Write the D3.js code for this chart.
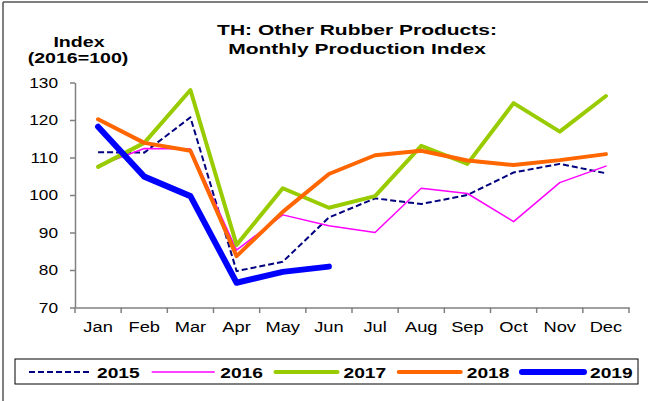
<!DOCTYPE html>
<html>
<head>
<meta charset="utf-8">
<script src="https://cdn.jsdelivr.net/npm/d3@7"></script>
<style>
  body { margin: 0; background: #fff; }
  svg { display: block; font-family: "Liberation Sans", Arial, sans-serif; }
</style>
</head>
<body>
<script>
var months = ["Jan", "Feb", "Mar", "Apr", "May", "Jun", "Jul", "Aug", "Sep", "Oct", "Nov", "Dec"];
var yTicks = [70, 80, 90, 100, 110, 120, 130];

var v2015 = [111.4, 111.3, 120.7, 79.7, 82.2, 94.0, 99.1, 97.6, 100.0, 106.0, 108.3, 105.8];
var v2016 = [107.8, 112.4, 112.3, 85.3, 94.7, 91.8, 90.0, 101.8, 100.4, 92.9, 103.3, 107.7];
var v2017 = [107.5, 113.9, 128.0, 86.7, 101.8, 96.6, 99.7, 113.1, 108.3, 124.5, 116.9, 126.4];
var v2018 = [120.2, 113.9, 111.8, 83.7, 95.5, 105.6, 110.6, 111.8, 109.2, 108.0, 109.3, 110.9];
var v2019 = [118.2, 104.9, 99.7, 76.6, 79.5, 80.9];

var series = [
  { name: "2015", values: v2015, color: "#000080", width: 2, dash: "6,3" },
  { name: "2016", values: v2016, color: "#ff00ff", width: 1.5, dash: null },
  { name: "2017", values: v2017, color: "#99cc00", width: 4, dash: null },
  { name: "2018", values: v2018, color: "#ff6600", width: 4, dash: null },
  { name: "2019", values: v2019, color: "#0000ff", width: 6, dash: null }
];

var width = 648, height = 401;

var svg = d3.select("body").append("svg")
  .attr("width", width)
  .attr("height", height);

// the original picture is stretched sideways, so the text is too
function stretchText(sel, x, y, s) {
  return sel.attr("transform", "translate(" + x + "," + y + ") scale(" + s + ",1)");
}

// outer frame (only top and left visible)
svg.append("line").attr("x1", 3).attr("x2", width).attr("y1", 2).attr("y2", 2)
  .attr("stroke", "#555").attr("stroke-width", 1.5);
svg.append("line").attr("x1", 3).attr("x2", 3).attr("y1", 2).attr("y2", height)
  .attr("stroke", "#555").attr("stroke-width", 1.5);

var x = d3.scaleBand().domain(months).range([75, 629]);
var y = d3.scaleLinear().domain([70, 130]).range([307.5, 82.5]);

// titles
stretchText(svg.append("text"), 357, 35, 1.4).attr("text-anchor", "middle")
  .style("font-size", "15px").style("font-weight", "bold")
  .text("TH: Other Rubber Products:");
stretchText(svg.append("text"), 357, 53.5, 1.4).attr("text-anchor", "middle")
  .style("font-size", "15px").style("font-weight", "bold")
  .text("Monthly Production Index");
stretchText(svg.append("text"), 79, 46.5, 1.4).attr("text-anchor", "middle")
  .style("font-size", "14px").style("font-weight", "bold")
  .text("Index");
stretchText(svg.append("text"), 78, 63, 1.4).attr("text-anchor", "middle")
  .style("font-size", "14px").style("font-weight", "bold")
  .text("(2016=100)");

// axes
var ySx = 1.15, xSx = 1.22;
var yAxis = svg.append("g")
  .attr("transform", "translate(75,0)")
  .call(d3.axisLeft(y).tickValues(yTicks).tickSize(5).tickSizeOuter(0));
yAxis.selectAll(".tick text")
  .attr("x", -17 / ySx)
  .attr("transform", "scale(" + ySx + ",1)");

var xAxis = svg.append("g")
  .attr("transform", "translate(0,307.5)")
  .call(d3.axisBottom(x).tickSize(0).tickSizeOuter(0).tickPadding(14));
xAxis.selectAll(".tick text")
  .attr("transform", "scale(" + xSx + ",1)");

// month boundary ticks
var bounds = months.map(function (m) { return x(m); }).concat([x.range()[1]]);
svg.append("g").selectAll("line").data(bounds).enter().append("line")
  .attr("x1", function (d) { return d; }).attr("x2", function (d) { return d; })
  .attr("y1", 307.5).attr("y2", 313)
  .attr("stroke", "#808080").attr("stroke-width", 1.5);

[yAxis, xAxis].forEach(function (a) {
  a.select(".domain").attr("stroke", "#808080").attr("stroke-width", 1.5);
  a.selectAll(".tick line").attr("stroke", "#808080").attr("stroke-width", 1.5);
  a.selectAll("text").style("font-size", "15px").style("font-family", "Liberation Sans, Arial, sans-serif").attr("fill", "#000");
});

// lines
var line = d3.line()
  .x(function (d, i) { return x(months[i]) + x.bandwidth() / 2; })
  .y(function (d) { return y(d); });

svg.append("g").selectAll("path").data(series).enter().append("path")
  .attr("d", function (d) { return line(d.values); })
  .attr("fill", "none")
  .attr("stroke", function (d) { return d.color; })
  .attr("stroke-width", function (d) { return d.width; })
  .attr("stroke-dasharray", function (d) { return d.dash; })
  .attr("stroke-linejoin", "round")
  .attr("stroke-linecap", function (d) { return d.dash ? "butt" : "round"; });

// legend
svg.append("rect").attr("x", 15).attr("y", 359).attr("width", 623).attr("height", 25)
  .attr("fill", "#fff").attr("stroke", "#000").attr("stroke-width", 1);

var legX = d3.scalePoint().domain(series.map(function (d) { return d.name; }))
  .range([29, 522]);
var leg = svg.append("g").selectAll("g").data(series).enter().append("g")
  .attr("transform", function (d) { return "translate(" + legX(d.name) + ",372)"; });
leg.append("line").attr("x1", 0).attr("x2", 62).attr("y1", 0).attr("y2", 0)
  .attr("stroke", function (d) { return d.color; })
  .attr("stroke-width", function (d) { return d.width; })
  .attr("stroke-dasharray", function (d) { return d.dash; })
  .attr("stroke-linecap", function (d) { return d.dash ? "butt" : "round"; });
stretchText(leg.append("text"), 68, 5.5, 1.28)
  .style("font-size", "15px").style("font-weight", "bold")
  .text(function (d) { return d.name; });
</script>
</body>
</html>
